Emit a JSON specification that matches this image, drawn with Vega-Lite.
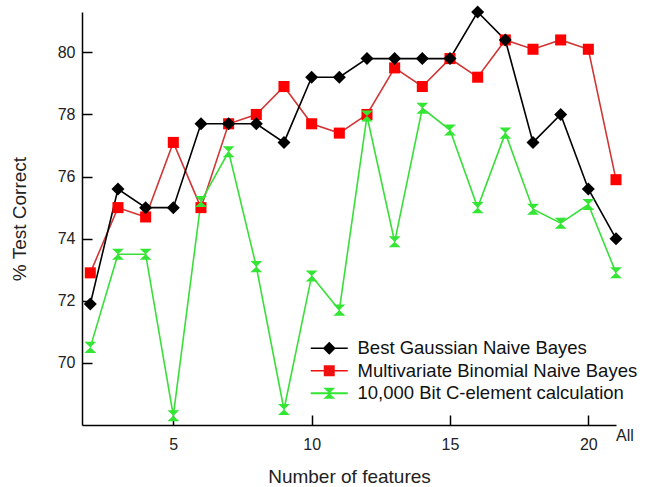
{
  "$schema": "https://vega.github.io/schema/vega-lite/v6.json",
  "width": 534,
  "height": 413,
  "autosize": {"type": "none"},
  "padding": {"left": 82, "top": 12, "right": 32, "bottom": 62},
  "background": "white",
  "config": {
    "view": {"stroke": null},
    "font": "Liberation Sans",
    "axis": {
      "grid": false,
      "domainColor": "#000000",
      "domainWidth": 1.5,
      "tickColor": "#000000",
      "tickWidth": 1.5,
      "tickSize": -10,
      "labelFont": "Liberation Sans",
      "labelFontSize": 16,
      "labelColor": "#222222",
      "titleFont": "Liberation Sans",
      "titleFontSize": 19,
      "titleFontWeight": "normal",
      "titleColor": "#222222"
    }
  },
  "data": {
    "values": [
      {"n": 2, "method": "Multivariate Binomial Naive Bayes", "pct": 72.9},
      {"n": 3, "method": "Multivariate Binomial Naive Bayes", "pct": 75.0},
      {"n": 4, "method": "Multivariate Binomial Naive Bayes", "pct": 74.7},
      {"n": 5, "method": "Multivariate Binomial Naive Bayes", "pct": 77.1},
      {"n": 6, "method": "Multivariate Binomial Naive Bayes", "pct": 75.0},
      {"n": 7, "method": "Multivariate Binomial Naive Bayes", "pct": 77.7},
      {"n": 8, "method": "Multivariate Binomial Naive Bayes", "pct": 78.0},
      {"n": 9, "method": "Multivariate Binomial Naive Bayes", "pct": 78.9},
      {"n": 10, "method": "Multivariate Binomial Naive Bayes", "pct": 77.7},
      {"n": 11, "method": "Multivariate Binomial Naive Bayes", "pct": 77.4},
      {"n": 12, "method": "Multivariate Binomial Naive Bayes", "pct": 78.0},
      {"n": 13, "method": "Multivariate Binomial Naive Bayes", "pct": 79.5},
      {"n": 14, "method": "Multivariate Binomial Naive Bayes", "pct": 78.9},
      {"n": 15, "method": "Multivariate Binomial Naive Bayes", "pct": 79.8},
      {"n": 16, "method": "Multivariate Binomial Naive Bayes", "pct": 79.2},
      {"n": 17, "method": "Multivariate Binomial Naive Bayes", "pct": 80.4},
      {"n": 18, "method": "Multivariate Binomial Naive Bayes", "pct": 80.1},
      {"n": 19, "method": "Multivariate Binomial Naive Bayes", "pct": 80.4},
      {"n": 20, "method": "Multivariate Binomial Naive Bayes", "pct": 80.1},
      {"n": 21, "method": "Multivariate Binomial Naive Bayes", "pct": 75.9},
      {"n": 2, "method": "10,000 Bit C-element calculation", "pct": 70.5},
      {"n": 3, "method": "10,000 Bit C-element calculation", "pct": 73.5},
      {"n": 4, "method": "10,000 Bit C-element calculation", "pct": 73.5},
      {"n": 5, "method": "10,000 Bit C-element calculation", "pct": 68.3},
      {"n": 6, "method": "10,000 Bit C-element calculation", "pct": 75.2},
      {"n": 7, "method": "10,000 Bit C-element calculation", "pct": 76.8},
      {"n": 8, "method": "10,000 Bit C-element calculation", "pct": 73.1},
      {"n": 9, "method": "10,000 Bit C-element calculation", "pct": 68.5},
      {"n": 10, "method": "10,000 Bit C-element calculation", "pct": 72.8},
      {"n": 11, "method": "10,000 Bit C-element calculation", "pct": 71.7},
      {"n": 12, "method": "10,000 Bit C-element calculation", "pct": 77.95},
      {"n": 13, "method": "10,000 Bit C-element calculation", "pct": 73.9},
      {"n": 14, "method": "10,000 Bit C-element calculation", "pct": 78.2},
      {"n": 15, "method": "10,000 Bit C-element calculation", "pct": 77.5},
      {"n": 16, "method": "10,000 Bit C-element calculation", "pct": 75.0},
      {"n": 17, "method": "10,000 Bit C-element calculation", "pct": 77.4},
      {"n": 18, "method": "10,000 Bit C-element calculation", "pct": 74.95},
      {"n": 19, "method": "10,000 Bit C-element calculation", "pct": 74.5},
      {"n": 20, "method": "10,000 Bit C-element calculation", "pct": 75.1},
      {"n": 21, "method": "10,000 Bit C-element calculation", "pct": 72.9},
      {"n": 2, "method": "Best Gaussian Naive Bayes", "pct": 71.9},
      {"n": 3, "method": "Best Gaussian Naive Bayes", "pct": 75.6},
      {"n": 4, "method": "Best Gaussian Naive Bayes", "pct": 75.0},
      {"n": 5, "method": "Best Gaussian Naive Bayes", "pct": 75.0},
      {"n": 6, "method": "Best Gaussian Naive Bayes", "pct": 77.7},
      {"n": 7, "method": "Best Gaussian Naive Bayes", "pct": 77.7},
      {"n": 8, "method": "Best Gaussian Naive Bayes", "pct": 77.7},
      {"n": 9, "method": "Best Gaussian Naive Bayes", "pct": 77.1},
      {"n": 10, "method": "Best Gaussian Naive Bayes", "pct": 79.2},
      {"n": 11, "method": "Best Gaussian Naive Bayes", "pct": 79.2},
      {"n": 12, "method": "Best Gaussian Naive Bayes", "pct": 79.8},
      {"n": 13, "method": "Best Gaussian Naive Bayes", "pct": 79.8},
      {"n": 14, "method": "Best Gaussian Naive Bayes", "pct": 79.8},
      {"n": 15, "method": "Best Gaussian Naive Bayes", "pct": 79.8},
      {"n": 16, "method": "Best Gaussian Naive Bayes", "pct": 81.3},
      {"n": 17, "method": "Best Gaussian Naive Bayes", "pct": 80.4},
      {"n": 18, "method": "Best Gaussian Naive Bayes", "pct": 77.1},
      {"n": 19, "method": "Best Gaussian Naive Bayes", "pct": 78.0},
      {"n": 20, "method": "Best Gaussian Naive Bayes", "pct": 75.6},
      {"n": 21, "method": "Best Gaussian Naive Bayes", "pct": 74.0}
    ]
  },
  "encoding": {
    "x": {
      "field": "n",
      "type": "quantitative",
      "scale": {"domain": [1.7, 21], "nice": false, "zero": false},
      "axis": {"values": [5, 10, 15, 20], "title": "Number of features", "labelPadding": 21, "titlePadding": 15}
    },
    "y": {
      "field": "pct",
      "type": "quantitative",
      "scale": {"domain": [68, 81.3], "nice": false, "zero": false},
      "axis": {"values": [70, 72, 74, 76, 78, 80], "title": "% Test Correct", "labelPadding": 17, "titlePadding": 28}
    }
  },
  "layer": [
    {
      "mark": {"type": "line", "strokeWidth": 1.6},
      "encoding": {
        "stroke": {
          "field": "method",
          "type": "nominal",
          "scale": {
            "domain": ["Best Gaussian Naive Bayes", "Multivariate Binomial Naive Bayes", "10,000 Bit C-element calculation"],
            "range": ["#000000", "#d03636", "#3ade3a"]
          },
          "legend": {
            "orient": "none",
            "legendX": 238,
            "legendY": 327,
            "title": null,
            "padding": 0,
            "symbolSize": 100,
            "symbolStrokeWidth": 0,
            "labelFont": "Liberation Sans",
            "labelFontSize": 18.5,
            "labelColor": "#111111",
            "labelOffset": 19,
            "labelLimit": 400,
            "rowPadding": 3.5,
            "encoding": {
              "symbols": {
                "shape": {"value": {"expr": "datum.value == 'Best Gaussian Naive Bayes' ? 'M-3.7,-0.16L3.7,-0.16L3.7,0.16L-3.7,0.16ZM-1.3,0L0,-1.3L1.3,0L0,1.3Z' : datum.value == 'Multivariate Binomial Naive Bayes' ? 'M-3.7,-0.16L3.7,-0.16L3.7,0.16L-3.7,0.16ZM-1.1,-1.1L1.1,-1.1L1.1,1.1L-1.1,1.1Z' : 'M-3.7,-0.18L3.7,-0.18L3.7,0.18L-3.7,0.18ZM-1.2,-1.1L1.2,-1.1L0,0L1.2,1.1L-1.2,1.1L0,0Z'"}},
                "fill": {"value": {"expr": "datum.value == 'Best Gaussian Naive Bayes' ? '#000000' : datum.value == 'Multivariate Binomial Naive Bayes' ? '#f01010' : '#33e633'"}},
                "strokeWidth": {"value": 0},
                "fillOpacity": {"value": 1},
                "opacity": {"value": 1}
              }
            }
          }
        }
      }
    },
    {
      "transform": [{"filter": "datum.method == 'Multivariate Binomial Naive Bayes'"}],
      "mark": {"type": "point", "shape": "M-0.85,-0.85L0.85,-0.85L0.85,0.85L-0.85,0.85Z", "filled": true, "fill": "#ff0000", "size": 169, "opacity": 1, "strokeWidth": 0}
    },
    {
      "transform": [{"filter": "datum.method == '10,000 Bit C-element calculation'"}],
      "mark": {"type": "point", "shape": "M-0.92,-0.85L0.92,-0.85L0,0L0.92,0.85L-0.92,0.85L0,0Z", "filled": true, "fill": "#33e633", "size": 169, "opacity": 1, "strokeWidth": 0}
    },
    {
      "transform": [{"filter": "datum.method == 'Best Gaussian Naive Bayes'"}],
      "mark": {"type": "point", "shape": "M-1,0L0,-1L1,0L0,1Z", "filled": true, "fill": "#000000", "size": 169, "opacity": 1, "strokeWidth": 0}
    },
    {
      "data": {"values": [{"n": 21, "pct": 68, "label": "All"}]},
      "mark": {"type": "text", "dx": 9, "dy": 11, "fontSize": 16, "font": "Liberation Sans", "color": "#222222", "align": "center", "baseline": "middle"},
      "encoding": {"text": {"field": "label"}}
    }
  ]
}
